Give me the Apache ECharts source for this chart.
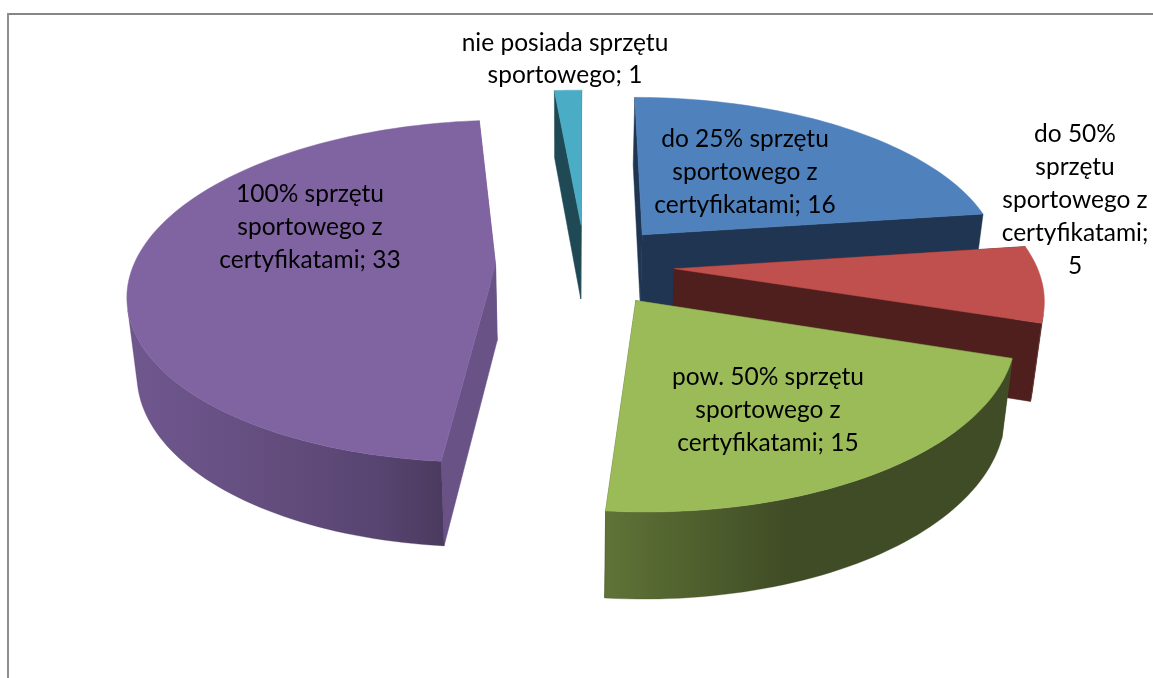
<!DOCTYPE html>
<html><head><meta charset="utf-8">
<style>html,body{margin:0;padding:0;background:#fff}#c{width:1153px;height:678px}</style>
<script src="https://cdn.jsdelivr.net/npm/echarts@6/dist/echarts.min.js"></script>
</head><body><div id="c"></div>
<script>
const categories = [
  'do 25% sprzętu\nsportowego z\ncertyfikatami',
  'do 50%\nsprzętu\nsportowego z\ncertyfikatami;',
  'pow. 50% sprzętu\nsportowego z\ncertyfikatami',
  '100% sprzętu\nsportowego z\ncertyfikatami',
  'nie posiada sprzętu\nsportowego'
];
const values = [16, 5, 15, 33, 1];
const separators = ['; ', '\n', '; ', '; ', '; '];
const topColors = ['#4F81BD', '#C0504D', '#9BBB59', '#8064A2', '#4BACC6'];
const cutColors = ['#1F3552', '#4F1F1E', '#4A5A2A', '#695286', '#1F4A55'];
const wallStops = [
  [[0, '#1F3552'], [1, '#1F3552']],
  [[0, '#4F1F1E'], [1, '#4F1F1E']],
  [[0, '#5F7337'], [0.2, '#51622E'], [0.45, '#404C26'], [1, '#404C26']],
  [[0, '#70588F'], [0.5, '#624C7C'], [0.8, '#574470'], [1, '#4B3A5F']],
  [[0, '#1F4A55'], [1, '#1F4A55']]
];
const labelCenters = [[745, 172], [1075, 200], [768, 410], [310, 227], [565, 59]];
const layers = [2, 3, 4, 1, 0];

const CX = 585, CY = 265, RX = 362, RY = 167, PERSP = 0.153, EXPLODE = 0.247;
const total = values.reduce((a, b) => a + b, 0);

function project(u, v) {
  const w = 1 - PERSP * v;
  return [CX + RX * u / w, CY + RY * v / w];
}
function lower(p) {
  const d = 63 + 0.047 * p[1];
  return [p[0] + (565 - p[0]) * 0.023, p[1] + d];
}
function sliceAngles(i) {
  let s = 0;
  for (let k = 0; k < i; k++) s += values[k];
  return [s / total * 2 * Math.PI, (s + values[i]) / total * 2 * Math.PI];
}
function frontFacing(arc) {
  // keep the part of the rim whose outer wall faces the viewer
  const out = [];
  for (let k = 0; k < arc.length - 1; k++) {
    const p = arc[k], q = arc[k + 1], l = lower(p);
    const cross = (q[0] - p[0]) * (l[1] - p[1]) - (q[1] - p[1]) * (l[0] - p[0]);
    if (cross < 0) {
      if (!out.length) out.push(p);
      out.push(q);
    }
  }
  return out;
}

const chart = echarts.init(document.getElementById('c'), null, {renderer: 'canvas'});

function renderItem(params, api) {
  const i = params.dataIndex;
  const val = api.value(0);
  const [a0, a1] = sliceAngles(i);
  const mid = (a0 + a1) / 2;
  const ou = EXPLODE * Math.sin(mid), ov = -EXPLODE * Math.cos(mid);
  const apex = project(ou, ov);
  const arc = [];
  const n = Math.max(8, Math.ceil((a1 - a0) * 40));
  for (let k = 0; k <= n; k++) {
    const a = a0 + (a1 - a0) * k / n;
    arc.push(project(ou + Math.sin(a), ov - Math.cos(a)));
  }
  const base = layers[i] * 10;
  const cut = (p) => ({
    type: 'polygon', z2: base + 1, silent: true,
    shape: {points: [apex, p, lower(p), lower(apex)]},
    style: {fill: cutColors[i], stroke: cutColors[i], lineWidth: 0.5}
  });
  const children = [cut(arc[0]), cut(arc[arc.length - 1])];
  const front = frontFacing(arc);
  if (front.length > 1) {
    children.push({
      type: 'polygon', z2: base + 2, silent: true,
      shape: {points: front.concat(front.map(lower).reverse())},
      style: {
        fill: new echarts.graphic.LinearGradient(0, 0, 1, 0,
          wallStops[i].map(s => ({offset: s[0], color: s[1]}))),
        stroke: wallStops[i][wallStops[i].length - 1][1], lineWidth: 0.3
      }
    });
  }
  children.push({
    type: 'polygon', z2: base + 3, silent: true,
    shape: {points: [apex].concat(arc)},
    style: {fill: topColors[i], stroke: topColors[i], lineWidth: 0.5}
  });
  children.push({
    type: 'text', z2: 500, silent: true,
    x: labelCenters[i][0], y: labelCenters[i][1],
    style: {
      text: categories[i] + separators[i] + val,
      x: 0, y: 0, align: 'center', verticalAlign: 'middle',
      font: '24.5px Lato', lineHeight: 32.8, fill: '#000'
    }
  });
  return {type: 'group', children};
}

chart.setOption({
  animation: false,
  backgroundColor: '#fff',
  graphic: [
    {type: 'line', z: 0, silent: true, shape: {x1: 8, y1: 14, x2: 1153, y2: 14}, style: {stroke: '#868686', lineWidth: 2}},
    {type: 'line', z: 0, silent: true, shape: {x1: 8, y1: 13, x2: 8, y2: 678}, style: {stroke: '#8E8E8E', lineWidth: 2}}
  ],
  series: [{
    type: 'custom',
    coordinateSystem: 'none',
    renderItem: renderItem,
    clip: false,
    data: values.map(v => [v])
  }]
});
</script></body></html>
